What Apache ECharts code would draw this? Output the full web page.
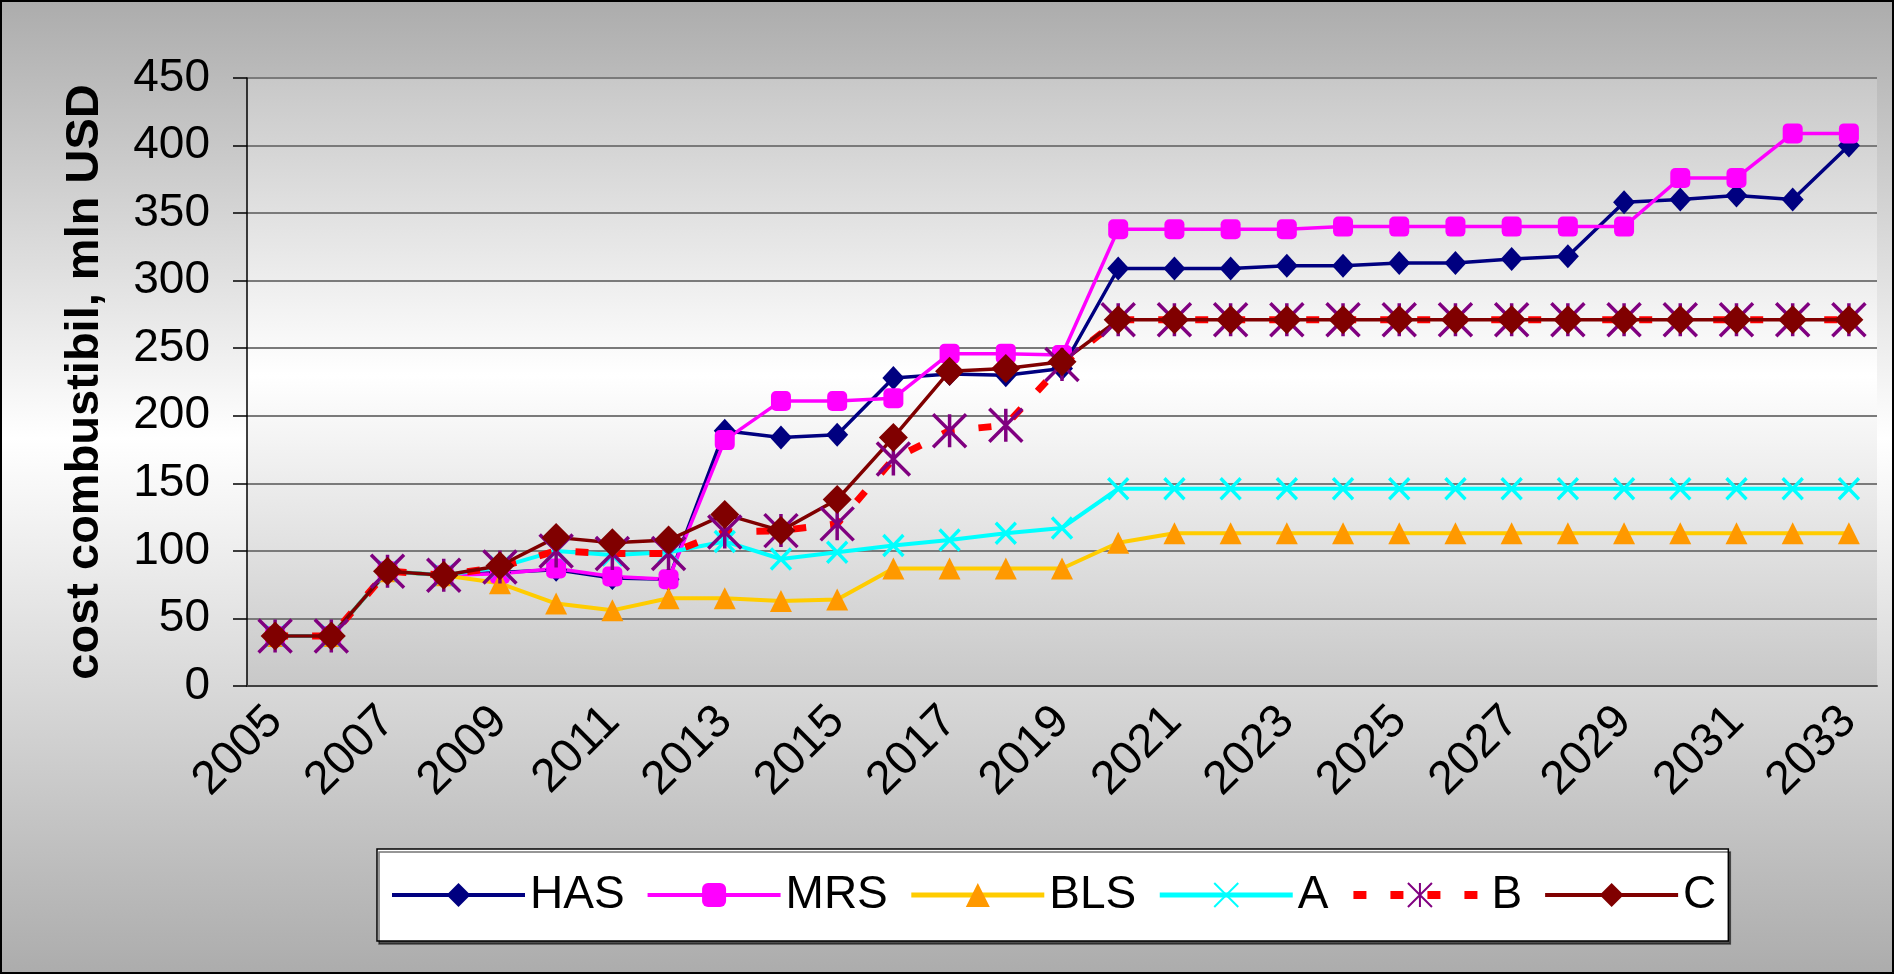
<!DOCTYPE html>
<html>
<head>
<meta charset="utf-8">
<title>cost combustibil</title>
<script src="https://cdn.jsdelivr.net/npm/echarts@6/dist/echarts.min.js"></script>
<style>
html, body { margin: 0; padding: 0; }
#echart_1 {
    width: 1894px;
    height: 974px;
    background: linear-gradient(to bottom, #acacac 0%, #ffffff 45%, #acacac 100%);
}
</style>
</head>
<body>
<div id="echart_1"></div>
<script>
// ani
var years = ['2005', '2006', '2007', '2008', '2009', '2010', '2011', '2012', '2013', '2014',
    '2015', '2016', '2017', '2018', '2019', '2020', '2021', '2022', '2023', '2024',
    '2025', '2026', '2027', '2028', '2029', '2030', '2031', '2032', '2033']

// cost combustibil, mln USD
var has = [37, 37, 85, 82, 84, 86, 80, 79, 189, 184, 186, 228, 231, 230, 235, 309,
    309, 309, 311, 311, 313, 313, 316, 318, 358, 360, 363, 360, 400]
var mrs = [37, 37, 85, 82, 83, 87, 81, 79, 182, 211, 211, 213, 246, 246, 245, 338,
    338, 338, 338, 340, 340, 340, 340, 340, 340, 376, 376, 409, 409]
var bls = [37, 37, 85, 82, 76, 61, 56, 65, 65, 63, 64, 87, 87, 87, 87, 106,
    113, 113, 113, 113, 113, 113, 113, 113, 113, 113, 113, 113, 113]
var a = [37, 37, 85, 82, 88, 100, 97, 99, 107, 94, 99, 104, 108, 113, 117, 146,
    146, 146, 146, 146, 146, 146, 146, 146, 146, 146, 146, 146, 146]
var b = [37, 37, 85, 82, 88, 100, 98, 98, 114, 115, 120, 168, 189, 193, 238, 271,
    271, 271, 271, 271, 271, 271, 271, 271, 271, 271, 271, 271, 271]
var c = [37, 37, 85, 82, 89, 110, 106, 108, 127, 115, 138, 184, 233, 235, 240, 271,
    271, 271, 271, 271, 271, 271, 271, 271, 271, 271, 271, 271, 271]

var yTicks = [0, 50, 100, 150, 200, 250, 300, 350, 400, 450]

var font = 'Liberation Sans'

var myChart = echarts.init(document.getElementById('echart_1'));
myChart.setOption({
    animation: false,
    backgroundColor: 'transparent',
    textStyle: { fontFamily: font },
    graphic: [{
        type: 'rect',
        shape: { x: 1, y: 1, width: 1892, height: 972 },
        style: { fill: 'none', stroke: '#000', lineWidth: 2 },
        silent: true
    }],
    grid: {
        left: 247,
        right: 17,
        top: 78,
        bottom: 288,
        show: true,
        borderWidth: 0,
        backgroundColor: new echarts.graphic.LinearGradient(0, 0, 0, 1, [
            { offset: 0, color: '#c8c8c8' },
            { offset: 0.49, color: '#ffffff' },
            { offset: 1, color: '#c8c8c8' }
        ])
    },
    legend: {
        left: 377,
        top: 849,
        padding: [23, 12, 23, 13],
        itemGap: 21,
        itemWidth: 133,
        itemHeight: 30,
        backgroundColor: '#fff',
        borderColor: '#000',
        borderWidth: 1.5,
        shadowColor: 'rgba(0,0,0,0.55)',
        shadowOffsetX: 2,
        shadowOffsetY: 3,
        textStyle: { fontSize: 46, color: '#000', fontFamily: font },
        data: [
            { name: 'HAS', lineStyle: { width: 4 } },
            { name: 'MRS', lineStyle: { width: 4 } },
            { name: 'BLS', lineStyle: { width: 5 } },
            { name: 'A', lineStyle: { width: 5 } },
            { name: 'B', lineStyle: { width: 8 } },
            { name: 'C', lineStyle: { width: 4 } }
        ]
    },
    xAxis: {
        type: 'category',
        data: years,
        boundaryGap: true,
        axisLine: { lineStyle: { color: '#404040', width: 2 } },
        axisTick: { interval: 0, length: 16, lineStyle: { color: '#000', width: 1.5 } },
        axisLabel: { interval: 1, rotate: 45, fontSize: 47, color: '#000', margin: 28 }
    },
    yAxis: {
        type: 'value',
        min: yTicks[0],
        max: yTicks[yTicks.length - 1],
        interval: 50,
        name: 'cost combustibil, mln USD',
        nameLocation: 'middle',
        nameGap: 138,
        nameTextStyle: { fontSize: 47, fontWeight: 'bold', color: '#000', fontFamily: font },
        axisLine: { show: true, lineStyle: { color: '#000', width: 1.5 } },
        axisTick: { show: true, length: 14, lineStyle: { color: '#000', width: 1.5 } },
        axisLabel: { fontSize: 46, color: '#000', margin: 37 },
        splitLine: { lineStyle: { color: '#7a7a7a', width: 2 } }
    },
    series: [{
        name: 'HAS',
        type: 'line',
        data: has,
        symbol: 'diamond',
        symbolSize: [22, 24],
        lineStyle: { color: '#000080', width: 3.5 },
        itemStyle: { color: '#000080' }
    }, {
        name: 'MRS',
        type: 'line',
        data: mrs,
        symbol: 'roundRect',
        symbolSize: 20,
        lineStyle: { color: '#ff00ff', width: 3.5 },
        itemStyle: { color: '#ff00ff' }
    }, {
        name: 'BLS',
        type: 'line',
        data: bls,
        symbol: 'triangle',
        symbolSize: [22, 22],
        lineStyle: { color: '#ffcc00', width: 4 },
        itemStyle: { color: '#ff9900' }
    }, {
        name: 'A',
        type: 'line',
        data: a,
        symbol: 'path://M0,0L20,21M20,0L0,21',
        symbolSize: [20, 21],
        lineStyle: { color: '#00ffff', width: 4 },
        itemStyle: { color: '#00ffff', borderColor: '#00ffff', borderWidth: 3.5 }
    }, {
        name: 'B',
        type: 'line',
        data: b,
        symbol: 'path://M0,0L32,32M32,0L0,32M16,0L16,32',
        symbolSize: 33,
        lineStyle: { color: '#ff0000', width: 7, type: [13, 24] },
        itemStyle: { color: '#800080', borderColor: '#800080', borderWidth: 3.5 }
    }, {
        name: 'C',
        type: 'line',
        data: c,
        symbol: 'diamond',
        symbolSize: 29,
        lineStyle: { color: '#800000', width: 3.5 },
        itemStyle: { color: '#800000' }
    }]
});
</script>
</body>
</html>
